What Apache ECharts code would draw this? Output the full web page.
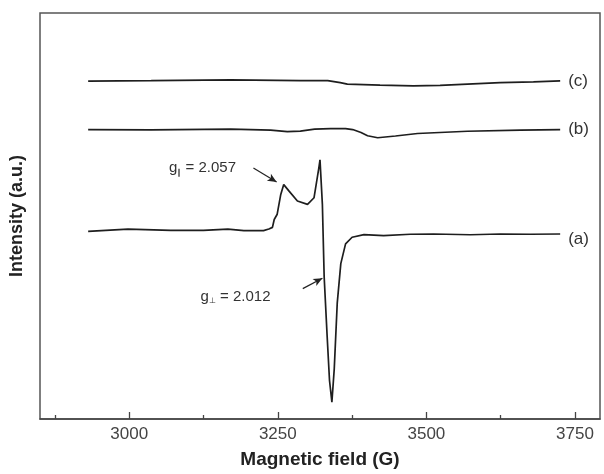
<!DOCTYPE html>
<html><head><meta charset="utf-8">
<script src="https://cdn.jsdelivr.net/npm/echarts@6/dist/echarts.min.js"></script>
<style>html,body{margin:0;padding:0;background:#fff}#c{width:604px;height:474px}</style>
</head><body><div id="c"></div>
<script>
// Magnetic field (G) and intensity (arbitrary units)
const fieldA = [2931,2998,3070,3125,3166,3193,3226,3235,3241,3244,3249,3255,3260,3269,3283,3300,3311,3315,3319,3321,3325,3328,3333,3337,3341,3345,3350,3356,3364,3375,3395,3428,3473,3512,3574,3624,3675,3725];
const intensA = [190,192.3,191,191,192.3,190.7,190.7,192.3,194,202,207.3,227.3,237.3,230.7,220.7,217.3,224,239,254,262.3,217.3,144,84,39,17,51,117.3,157.3,177.3,184,186.7,185.7,187,187.3,186.5,187.3,187,187.3];
const fieldB = [2931,3037,3171,3238,3266,3288,3312,3339,3364,3376,3390,3401,3418,3448,3485,3569,3658,3725];
const intensB = [293,292.7,293.5,292.5,291,291.5,293.5,294,294,293,290,286.7,284.7,286.5,289,291.3,292.5,293];
const fieldC = [2931,3037,3171,3288,3334,3355,3367,3422,3478,3523,3569,3624,3680,3725];
const intensC = [342,342.5,343.3,342.5,342.5,340.5,339,338,337.3,337.8,339,340.5,341.3,342.3];
const seriesNames = ['(a)','(b)','(c)'];
const majorTicks = [3000,3250,3500,3750];
const minorTicks = [2875,3125,3375,3625];
// annotations: [text position], [arrow start], [arrow end]
const gParText = [3067,254], gParFrom = [3209,254], gParTo = [3248,240];
const gPerpText = [3120,124], gPerpFrom = [3292,132], gPerpTo = [3325,142.5];

const zip = (xs, ys) => xs.map((x,i) => [x, ys[i]]);
const lineColor = '#1e1e1e';
const font = 'Liberation Sans, Arial, sans-serif';

function mkSeries(name, data, extra) {
  return Object.assign({
    name, type: 'line', data, showSymbol: false, symbol: 'none',
    lineStyle: {color: lineColor, width: 1.7}, itemStyle: {color: lineColor},
    endLabel: {show: true, formatter: name, distance: 8, fontSize: 17, color: '#333', fontFamily: font},
    silent: true, animation: false
  }, extra || {});
}

const rich = {
  g: {fontSize: 15, color: '#333', fontFamily: font},
  s: {fontSize: 8, color: '#333', fontFamily: font, padding: [9,0,0,0]},
  t: {fontSize: 15, color: '#333', fontFamily: font}
};

const chart = echarts.init(document.getElementById('c'));
chart.setOption({
  animation: false,
  grid: {left: 40, right: 4, top: 13, bottom: 50, show: true, borderColor: '#555', borderWidth: 1.5, backgroundColor: '#fff'},
  xAxis: [{
    type: 'value', min: 2850, max: 3792,
    name: 'Magnetic field (G)', nameLocation: 'middle', nameGap: 31,
    nameTextStyle: {fontSize: 19, fontWeight: 'bold', color: '#222', fontFamily: font},
    axisLine: {show: true, onZero: false, lineStyle: {color: '#444', width: 1.5}},
    axisTick: {show: true, inside: true, length: 7, customValues: majorTicks, lineStyle: {color: '#444', width: 1.3}},
    axisLabel: {show: true, customValues: majorTicks, formatter: v => String(v), fontSize: 17, color: '#444', margin: 7, fontFamily: font},
    splitLine: {show: false}
  }, {
    type: 'value', min: 2850, max: 3792, position: 'bottom',
    axisLine: {show: false},
    axisTick: {show: true, inside: true, length: 4, customValues: minorTicks, lineStyle: {color: '#444', width: 1.3}},
    axisLabel: {show: false}, splitLine: {show: false}
  }],
  yAxis: {
    type: 'value', min: 0, max: 411,
    name: 'Intensity (a.u.)', nameLocation: 'middle', nameGap: 14, nameRotate: 90,
    nameTextStyle: {fontSize: 18, fontWeight: 'bold', color: '#222', fontFamily: font},
    axisLine: {show: false}, axisTick: {show: false}, axisLabel: {show: false}, splitLine: {show: false}
  },
  series: [
    mkSeries(seriesNames[0], zip(fieldA, intensA), {
      endLabel: {show: true, formatter: seriesNames[0], distance: 8, offset: [0,5], fontSize: 17, color: '#333', fontFamily: font},
      markLine: {
        silent: true, animation: false, symbol: ['none','arrow'], symbolSize: [6,9],
        lineStyle: {color: '#222', width: 1.2, type: 'solid'}, label: {show: false},
        data: [
          [{coord: gParFrom}, {coord: gParTo}],
          [{coord: gPerpFrom}, {coord: gPerpTo}]
        ]
      },
      markPoint: {
        silent: true, animation: false, symbol: 'circle', symbolSize: 0,
        label: {show: true, position: 'right', distance: 0},
        data: [
          {coord: gParText, label: {formatter: '{g|g}{s|\u2225}{t| = 2.057}', rich}},
          {coord: gPerpText, label: {formatter: '{g|g}{s|\u22A5}{t| = 2.012}', rich}}
        ]
      }
    }),
    mkSeries(seriesNames[1], zip(fieldB, intensB)),
    mkSeries(seriesNames[2], zip(fieldC, intensC))
  ]
});
</script></body></html>
